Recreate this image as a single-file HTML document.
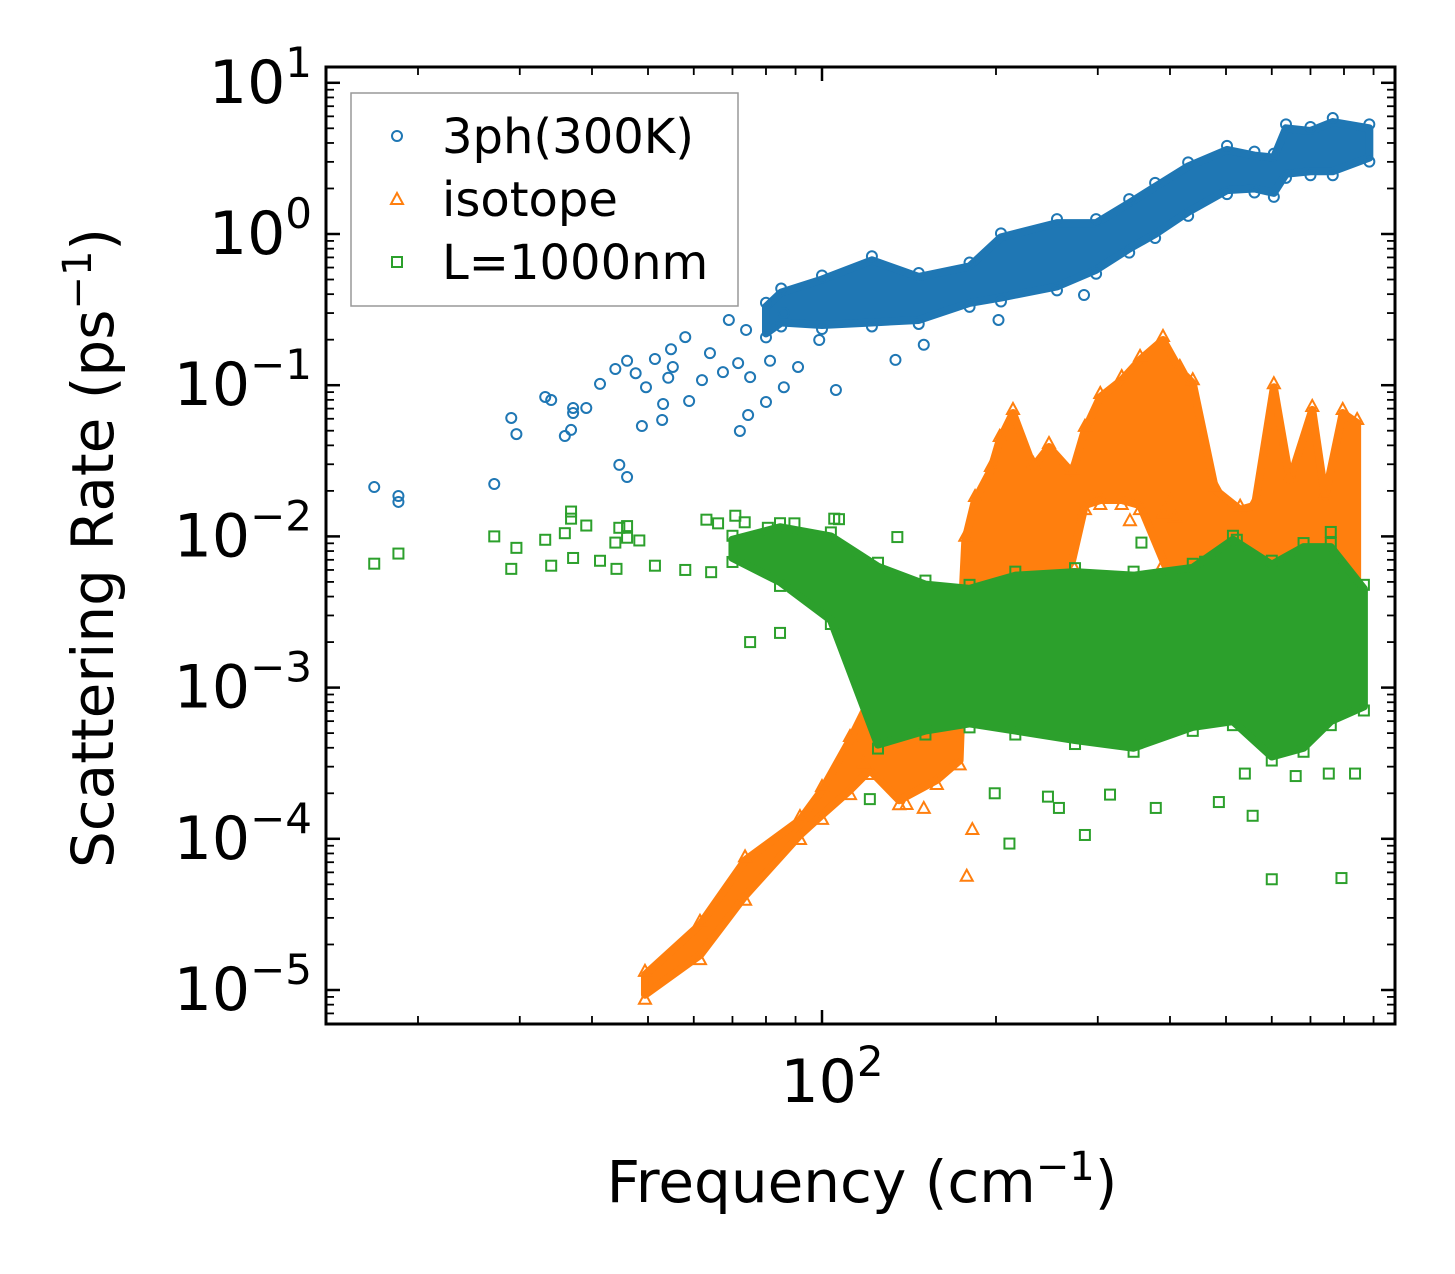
<!DOCTYPE html>
<html><head><meta charset="utf-8">
<style>
html,body{margin:0;padding:0;background:#fff;}
svg{display:block;font-family:"DejaVu Sans","Liberation Sans",sans-serif;}
</style></head>
<body>
<svg id="chart" width="1455" height="1274" viewBox="0 0 1455 1274" xmlns="http://www.w3.org/2000/svg">
<rect width="1455" height="1274" fill="#fff"/>
<g id="marks"></g>
<g id="axes"></g>
<g id="legend">
  <rect x="351" y="93" width="387" height="213" fill="#fff" fill-opacity="0.8" stroke="#999" stroke-width="1.5"/>
  <circle cx="397" cy="136" r="5" fill="none" stroke="#1f77b4" stroke-width="2"/>
  <text x="442" y="153" font-size="48" fill="#000">3ph(300K)</text>
  <path d="M397,193 L403,204 L391,204 Z" fill="none" stroke="#ff7f0e" stroke-width="2"/>
  <text x="442" y="216" font-size="48" fill="#000">isotope</text>
  <rect x="392" y="257" width="10" height="10" fill="none" stroke="#2ca02c" stroke-width="2"/>
  <text x="442" y="279" font-size="48" fill="#000">L=1000nm</text>
</g>
<text x="862" y="1202" font-size="58" text-anchor="middle">Frequency (cm<tspan dy="-22" font-size="40">−1</tspan><tspan dy="22">)</tspan></text>
<text transform="translate(113,548) rotate(-90)" font-size="58" text-anchor="middle">Scattering Rate (ps<tspan dy="-22" font-size="40">−1</tspan><tspan dy="22">)</tspan></text>
</svg>
<script>
// ---- data ----
const blueBandFreq = [80,85,100,122,147,180,204,255,298,340,377,430,502,560,605,635,700,765,885];
const blueBandUpper = [0.33,0.41,0.5,0.67,0.52,0.61,0.95,1.18,1.18,1.6,2.05,2.8,3.6,3.3,3.2,5.0,4.8,5.5,5.0];
const blueBandLower = [0.22,0.26,0.25,0.26,0.27,0.35,0.38,0.45,0.58,0.8,1.0,1.4,1.95,2.0,1.87,2.5,2.6,2.6,3.2];
const blueFreq = [16.8,18.5,18.5,27.1,29.0,29.6,33.2,34.0,35.9,36.8,37.1,37.1,39.1,41.3,44.6,46.0,43.9,46.0,47.6,48.8,49.6,51.4,52.9,53.1,54.2,54.8,55.2,58.0,58.9,62.0,64.0,67.4,71.6,72.1,74.5,75.1,80.0,81.3,85.9,90.9,105.7,134,69.0,73.9,85.9,98.9,150,202,284];
const blueRate = [0.0212,0.0185,0.0169,0.0222,0.0607,0.0475,0.0836,0.0798,0.0461,0.0506,0.0707,0.0655,0.0707,0.102,0.0297,0.0247,0.128,0.145,0.120,0.0537,0.097,0.149,0.0589,0.0751,0.112,0.173,0.132,0.208,0.0786,0.108,0.163,0.122,0.140,0.0498,0.0635,0.113,0.0774,0.145,0.097,0.132,0.093,0.147,0.270,0.232,0.300,0.199,0.185,0.27,0.395];

const orangeBandFreq = [49.4,61.5,73.6,91.6,100,111.8,121,136,158,173,177,184,196,203,214,232,247,271,285,303,330,355,389,416,438,479,529,561,605,645,705,742,796,843];
const orangeBandUpper = [1.26e-5,2.7e-5,7.2e-5,1.33e-4,2.1e-4,4.5e-4,8.3e-4,1.2e-3,1.52e-3,1.6e-3,9.5e-3,0.0174,0.0275,0.0434,0.0655,0.0288,0.039,0.0263,0.0506,0.0836,0.108,0.147,0.199,0.126,0.103,0.0203,0.015,0.016,0.097,0.0236,0.0686,0.0182,0.0655,0.0562];
const orangeBandLower = [9.3e-6,1.7e-5,4.2e-5,1.06e-4,1.44e-4,2.1e-4,2.85e-4,1.8e-4,2.45e-4,3.3e-4,3.8e-3,3.8e-3,3.8e-3,3.8e-3,3.8e-3,3.8e-3,3.8e-3,6.98e-3,0.0161,0.0174,0.0174,0.0161,6.98e-3,3.8e-3,3.8e-3,3.8e-3,3.8e-3,3.8e-3,3.8e-3,3.8e-3,3.8e-3,3.8e-3,3.8e-3,3.8e-3];
const orangeFreq = [182,178,140,150,118,341,389,401,303,408];
const orangeRate = [1.16e-4,5.7e-5,1.7e-4,1.6e-4,3.2e-4,0.0128,0.0143,0.0174,0.0182,0.0135];

const greenBandFreq = [70,84.6,103.6,125,151,180,216,274,346,438,514,600,681,759,866];
const greenBandUpper = [0.0095,0.0115,0.010,0.0063,0.0048,0.0045,0.0055,0.0058,0.0055,0.0062,0.0095,0.0065,0.0085,0.0085,0.0045];
const greenBandLower = [0.0072,0.0050,0.0028,0.00042,0.00052,0.00058,0.00052,0.00045,0.00040,0.00055,0.00060,0.00035,0.00040,0.00060,0.00075];
const greenFreq = [16.8,18.5,27.1,29.0,29.6,33.2,34.0,35.9,36.8,36.8,37.1,39.1,41.3,43.9,44.6,46.0,44.1,46.0,48.3,51.4,58.0,63.1,66.1,64.3,70.8,73.5,80.6,75.1,84.6,89.6,105,135,121,199,211,285,315,556,600,792,753,539,378,486,660,836,246,257,357,759,522,460,422,107];
const greenRate = [0.0066,0.0077,0.0100,0.0061,0.0084,0.0095,0.0064,0.0105,0.0146,0.0131,0.0072,0.0118,0.0069,0.0091,0.0114,0.0117,0.0061,0.0098,0.0094,0.0064,0.0060,0.0129,0.0122,0.0058,0.0137,0.0124,0.0114,0.0020,0.0023,0.0122,0.0131,0.0099,1.83e-4,2.0e-4,9.3e-5,1.06e-4,1.96e-4,1.42e-4,5.4e-5,5.5e-5,2.7e-4,2.7e-4,1.6e-4,1.75e-4,2.6e-4,2.7e-4,1.9e-4,1.6e-4,9.1e-3,0.0107,9.5e-3,6.8e-3,5.4e-3,0.0130];

// ---- axes ----
const X0 = 326, X1 = 1395, Y0 = 67, Y1 = 1024;
function xs(f){ return 822 + 578*Math.log10(f/100); }
function ys(r){ return 234 - 151.2*Math.log10(r); }
const NS = 'http://www.w3.org/2000/svg';
const marks = document.getElementById('marks');
const axes = document.getElementById('axes');
function mk(tag, attrs, parent){
  const e = document.createElementNS(NS, tag);
  for (const k in attrs) e.setAttribute(k, attrs[k]);
  parent.appendChild(e);
  return e;
}
const clip = mk('clipPath', {id:'pc'}, marks);
mk('rect', {x:X0, y:Y0, width:X1-X0, height:Y1-Y0}, clip);
marks.setAttribute('clip-path', 'url(#pc)');

function marker(type, x, y, color, parent){
  let e;
  if (type === 'c') e = mk('circle', {cx:x, cy:y, r:5, fill:'none', stroke:color, 'stroke-width':2}, parent);
  else if (type === 't') e = mk('path', {d:`M${x},${y-6} L${x+6},${y+5} L${x-6},${y+5} Z`, fill:'none', stroke:color, 'stroke-width':2}, parent);
  else e = mk('rect', {x:x-5, y:y-5, width:10, height:10, fill:'none', stroke:color, 'stroke-width':2}, parent);
  return e;
}
function drawSeries(name, type, color, bf, bu, bl, pf, pr){
  const g = mk('g', {}, marks);
  
  
  let pts = [];
  for (let i=0;i<bf.length;i++) pts.push(xs(bf[i])+','+ys(bu[i]));
  for (let i=bf.length-1;i>=0;i--) pts.push(xs(bf[i])+','+ys(bl[i]));
  const poly = mk('polygon', {points:pts.join(' '), fill:color, stroke:color, 'stroke-width':8, 'stroke-linejoin':'round'}, g);
  
  
  for (let i=0;i<bf.length;i++){
    const a = marker(type, xs(bf[i]), ys(bu[i]) - 4, color, g);
    
    
    const b = marker(type, xs(bf[i]), ys(bl[i]) + 4, color, g);
    
    
  }
  for (let i=0;i<pf.length;i++){
    const p = marker(type, xs(pf[i]), ys(pr[i]), color, g);
    
    
  }
}
drawSeries('3ph', 'c', '#1f77b4', blueBandFreq, blueBandUpper, blueBandLower, blueFreq, blueRate);
drawSeries('isotope', 't', '#ff7f0e', orangeBandFreq, orangeBandUpper, orangeBandLower, orangeFreq, orangeRate);
drawSeries('boundary', 's', '#2ca02c', greenBandFreq, greenBandUpper, greenBandLower, greenFreq, greenRate);

// frame
const frame = mk('rect', {x:X0, y:Y0, width:X1-X0, height:Y1-Y0, fill:'none', stroke:'#000', 'stroke-width':3}, axes);


// y ticks
for (let e=-6; e<=1; e++){
  for (let m=1; m<=9; m++){
    const v = m*Math.pow(10,e); const y = ys(v);
    if (y < Y0 || y > Y1) continue;
    const L = m===1 ? 14 : 8;
    const t1 = mk('line', {x1:X0, x2:X0+L, y1:y, y2:y, stroke:'#000', 'stroke-width': m===1?2.5:1.8}, axes);
    
    
    const t2 = mk('line', {x1:X1, x2:X1-L, y1:y, y2:y, stroke:'#000', 'stroke-width': m===1?2.5:1.8}, axes);
    
    
    if (m===1){
      const t = mk('text', {x:312, y:y+20, 'font-size':60, 'text-anchor':'end'}, axes);
      
      
      const sup = e<0 ? '−'+(-e) : ''+e;
      t.innerHTML = '10<tspan dy="-26" font-size="42">'+sup+'</tspan>';
    }
  }
}
// x ticks
for (let e=1; e<=2; e++){
  for (let m=1; m<=9; m++){
    const v = m*Math.pow(10,e); const x = xs(v);
    if (x < X0 || x > X1) continue;
    const L = m===1 ? 14 : 8;
    const t1 = mk('line', {x1:x, x2:x, y1:Y1, y2:Y1-L, stroke:'#000', 'stroke-width': m===1?2.5:1.8}, axes);
    
    
    const t2 = mk('line', {x1:x, x2:x, y1:Y0, y2:Y0+L, stroke:'#000', 'stroke-width': m===1?2.5:1.8}, axes);
    
    
    if (m===1){
      const t = mk('text', {x:x+10, y:1102, 'font-size':60, 'text-anchor':'middle'}, axes);
      
      
      t.innerHTML = '10<tspan dy="-26" font-size="42">'+e+'</tspan>';
    }
  }
}
</script>
</body></html>
